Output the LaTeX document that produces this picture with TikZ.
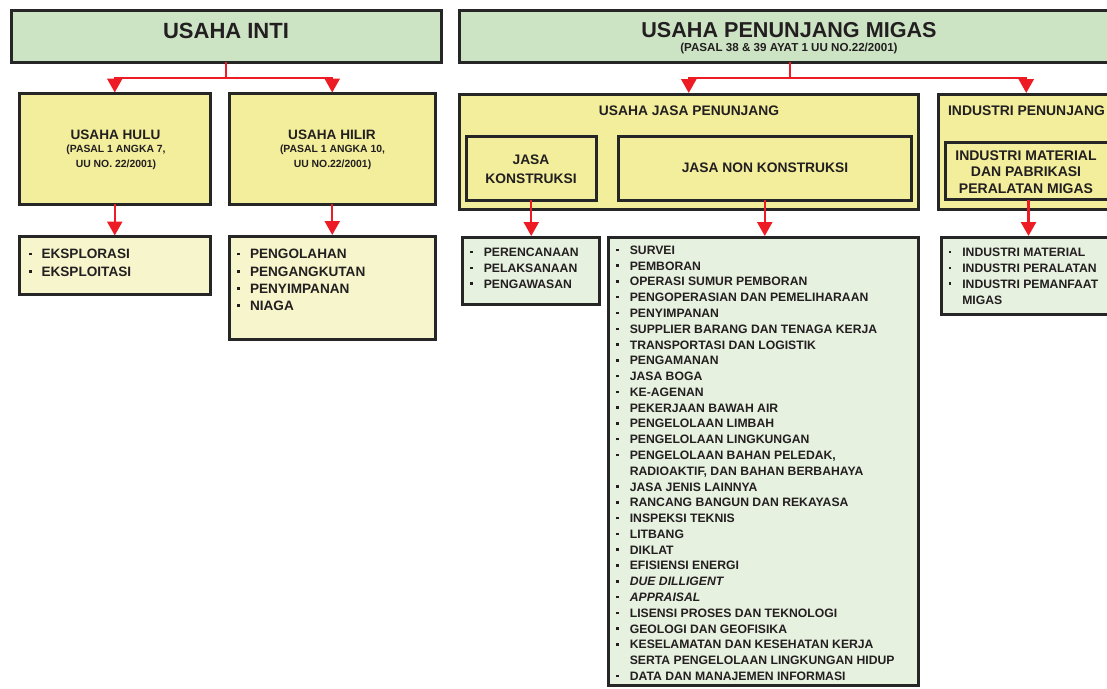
\documentclass[tikz,border=0pt]{standalone}
\usepackage{fontspec}
\setmainfont{Liberation Sans}
\usetikzlibrary{arrows.meta}

\definecolor{ink}{HTML}{231F20}
\definecolor{frame}{HTML}{262626}
\definecolor{topgreen}{HTML}{CCE4C4}
\definecolor{midyellow}{HTML}{F2EE9C}
\definecolor{paleyellow}{HTML}{F7F5CB}
\definecolor{palegreen}{HTML}{E7F1E0}
\definecolor{linkred}{HTML}{ED1C24}

% font size helper
\newcommand\fsz[2]{\fontsize{#1}{#2}\selectfont}
% list bullets (left lists and right lists) and hanging indent
\newcommand\bulL{\makebox[12.8pt][l]{\raisebox{3.6pt}{\rule{2.8pt}{2.8pt}}}}
\newcommand\bulR{\makebox[13.6pt][l]{\raisebox{3.2pt}{\rule{2.5pt}{2.5pt}}}}
\newcommand\indR{\hspace*{13.6pt}}

% a framed panel given by the centre line of its border
\newcommand\panel[6]{%
  \node[#6, minimum width={(#4-#2)*1pt}, minimum height={(#5-#3)*1pt},
        anchor=north west] (#1) at (#2,#3) {};}

\tikzset{
  box/.style={draw=frame, line width=3pt, inner sep=0pt, outer sep=0pt},
  head/.style={box, fill=topgreen},
  mid/.style={box, fill=midyellow},
  listL/.style={box, fill=paleyellow},
  listR/.style={box, fill=palegreen},
  label/.style={text=ink, inner sep=0pt, align=center, font=\bfseries},
  items/.style={text=ink, inner sep=0pt, align=left, anchor=north west, font=\bfseries},
  link/.style={draw=linkred, line width=2.4pt},
  arr/.style={link, -{Triangle[length=14pt,width=15pt]}, shorten >=1pt},
}

\begin{document}
\begin{tikzpicture}[x=1pt,y=-1pt]
\useasboundingbox (0,0) rectangle (1107,688);
\clip (0,0) rectangle (1107,688);

% ---------- core business ----------
\panel{inti}{11.5}{10.5}{441}{62}{head}
\node[label, font=\bfseries\fsz{22}{26}] (intit) at (226,30.5) {USAHA INTI};

\panel{hulu}{19.5}{93.5}{210}{204}{mid}
\panel{hilir}{229.5}{93.5}{435}{204}{mid}
\node[label, font=\bfseries\fsz{13.6}{16}] (hulut) at (115.5,135) {USAHA HULU};
\node[label, font=\bfseries\fsz{10.4}{14.5}] (hulus) at (116,157.5) {(PASAL 1 ANGKA 7,\\UU NO. 22/2001)};
\node[label, font=\bfseries\fsz{13.6}{16}] (hilirt) at (332,135) {USAHA HILIR};
\node[label, font=\bfseries\fsz{10.4}{14.5}] (hilirs) at (332.5,157.5) {(PASAL 1 ANGKA 10,\\UU NO.22/2001)};

\panel{eks}{19.5}{236.5}{210}{294}{listL}
\panel{hil}{229.5}{236}{435}{339}{listL}
\node[items, font=\bfseries\fsz{13.6}{17.3}] (ekst) at (28.5,249.2)
  {\bulL EKSPLORASI\\\bulL EKSPLOITASI};
\node[items, font=\bfseries\fsz{13.6}{17.2}] (hilt) at (237,249.2)
  {\bulL PENGOLAHAN\\\bulL PENGANGKUTAN\\\bulL PENYIMPANAN\\\bulL NIAGA};

% ---------- supporting business ----------
\panel{pen}{459.5}{10.5}{1120}{62}{head}
\node[label, font=\bfseries\fsz{21.6}{26}] (pent) at (789,30) {USAHA PENUNJANG MIGAS};
\node[label, font=\bfseries\fsz{11.6}{14}] (pens) at (789,48.5) {(PASAL 38 \& 39 AYAT 1 UU NO.22/2001)};

\panel{jasa}{459}{94}{918.5}{209.5}{mid}
\node[label, font=\bfseries\fsz{13.8}{16}] (jasat) at (689,111) {USAHA JASA PENUNJANG};
\panel{jk}{466}{136}{596.5}{200}{mid}
\node[label, font=\bfseries\fsz{13.8}{19}] (jkt) at (531,169.5) {JASA\\KONSTRUKSI};
\panel{jnk}{618}{136}{911.5}{200}{mid}
\node[label, font=\bfseries\fsz{13.8}{16}] (jnkt) at (765,168) {JASA NON KONSTRUKSI};

\panel{ind}{938.5}{94}{1114}{209.5}{mid}
\node[label, font=\bfseries\fsz{13.9}{16}] (indt) at (1026.5,111) {INDUSTRI PENUNJANG};
\panel{im}{945}{142.5}{1112}{199.5}{mid}
\node[label, font=\bfseries\fsz{14}{16.8}] (imt) at (1026,172) {INDUSTRI MATERIAL\\DAN PABRIKASI\\PERALATAN MIGAS};

\panel{per}{462.5}{237}{599.5}{304.5}{listR}
\panel{nk}{608.5}{237}{918.5}{685.5}{listR}
\panel{indl}{941}{237}{1116}{314}{listR}

\node[items, font=\bfseries\fsz{12.2}{15.9}] (pert) at (470,247.6)
  {\bulR PERENCANAAN\\\bulR PELAKSANAAN\\\bulR PENGAWASAN};
\node[items, font=\bfseries\fsz{12.2}{15.78}] (nkt) at (616,245.6)
  {\bulR SURVEI\\
   \bulR PEMBORAN\\
   \bulR OPERASI SUMUR PEMBORAN\\
   \bulR PENGOPERASIAN DAN PEMELIHARAAN\\
   \bulR PENYIMPANAN\\
   \bulR SUPPLIER BARANG DAN TENAGA KERJA\\
   \bulR TRANSPORTASI DAN LOGISTIK\\
   \bulR PENGAMANAN\\
   \bulR JASA BOGA\\
   \bulR KE-AGENAN\\
   \bulR PEKERJAAN BAWAH AIR\\
   \bulR PENGELOLAAN LIMBAH\\
   \bulR PENGELOLAAN LINGKUNGAN\\
   \bulR PENGELOLAAN BAHAN PELEDAK,\\
   \indR RADIOAKTIF, DAN BAHAN BERBAHAYA\\
   \bulR JASA JENIS LAINNYA\\
   \bulR RANCANG BANGUN DAN REKAYASA\\
   \bulR INSPEKSI TEKNIS\\
   \bulR LITBANG\\
   \bulR DIKLAT\\
   \bulR EFISIENSI ENERGI\\
   \bulR \textit{DUE DILLIGENT}\\
   \bulR \textit{APPRAISAL}\\
   \bulR LISENSI PROSES DAN TEKNOLOGI\\
   \bulR GEOLOGI DAN GEOFISIKA\\
   \bulR KESELAMATAN DAN KESEHATAN KERJA\\
   \indR SERTA PENGELOLAAN LINGKUNGAN HIDUP\\
   \bulR DATA DAN MANAJEMEN INFORMASI};
\node[items, font=\bfseries\fsz{12.2}{15.9}] (indlt) at (948.5,247.6)
  {\bulR INDUSTRI MATERIAL\\\bulR INDUSTRI PERALATAN\\\bulR INDUSTRI PEMANFAAT\\\indR MIGAS};

% ---------- connectors ----------
\draw[link] (inti.south) -- ++(0,16) coordinate (j1);
\draw[arr] (j1) -| (hulu.north);
\draw[arr] (j1) -| (hilir.north);
\draw[link] (pen.south) -- ++(0,16) coordinate (j2);
\draw[arr] (j2) -| (jasa.north);
\draw[arr] (j2) -| (ind.north);

\draw[arr] (hulu.south) -- (eks.north);
\draw[arr] (hilir.south) -- (hil.north);
\draw[arr] (jk.south) -- (jk.south |- per.north);
\draw[arr] (jnk.south) -- (jnk.south |- nk.north);
\draw[arr] (im.south) -- (im.south |- indl.north);
\end{tikzpicture}
\end{document}
